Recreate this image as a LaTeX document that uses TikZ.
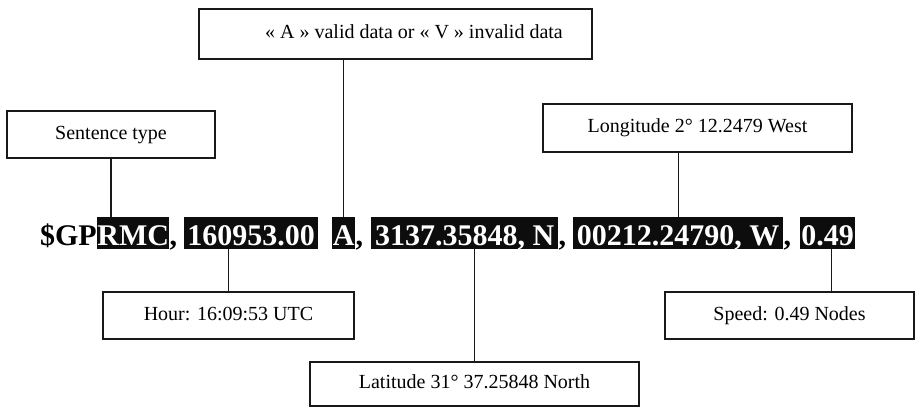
\documentclass[tikz,border=0pt]{standalone}
\usepackage{fontspec}
\setmainfont{Liberation Serif}
\begin{document}
\begin{tikzpicture}[x=1pt,y=-1pt,
  infobox/.style={draw=black!90, line width=1.2pt, fill=white,
    font=\fontsize{20}{24}\selectfont, inner sep=0pt,
    text height=14pt, text depth=5pt},
  conn/.style={draw=black!90, line width=1.2pt},
  plain/.style={font=\fontsize{30}{36}\selectfont\bfseries, inner sep=0pt,
    text height=28pt, text depth=4pt},
  field/.style={plain, fill=black!95, text=white, anchor=base west}]
\useasboundingbox (0,0) rectangle (916,408);

% NMEA sentence: highlighted fields on a common baseline
\node[field] (rmc) at (97,245)  {\makebox[72pt][c]{RMC}};
\node[field] (t)   at (184,245) {\makebox[134pt][c]{160953.00}};
\node[field] (a)   at (332,245) {\makebox[23pt][c]{A}};
\node[field] (n)   at (371,245) {\makebox[187pt][c]{3137.35848, N}};
\node[field] (w)   at (573,245) {\makebox[210pt][c]{00212.24790, W}};
\node[field] (v)   at (800,245) {\makebox[55pt][c]{0.49}};

\node[plain, anchor=base east] (gp) at (rmc.base west) {\$GP};
\node[plain, anchor=base west] (c1) at (rmc.base east) {,};
\node[plain, anchor=base west] (c2) at (a.base east) {,};
\node[plain, anchor=base west] (c3) at (n.base east) {,};
\node[plain, anchor=base west] (c4) at (w.base east) {,};

% explanation boxes
\node[infobox, minimum width=208pt, minimum height=47pt] (ty) at (111,134.5) {Sentence type};
\node[infobox, minimum width=393pt, minimum height=50pt] (valid) at (395.5,34)
  {\hspace*{37pt}« A » valid data or « V » invalid data};
\node[infobox, minimum width=309pt, minimum height=48pt] (lon) at (697.5,128) {Longitude 2° 12.2479 West};
\node[infobox, minimum width=251pt, minimum height=47pt] (hour) at (228.5,315.5) {Hour: 16:09:53 UTC};
\node[infobox, minimum width=329pt, minimum height=44pt] (lat) at (474.5,384) {Latitude 31° 37.25848 North};
\node[infobox, minimum width=249pt, minimum height=47pt] (sp) at (789.5,315.5) {Speed: 0.49 Nodes};

% connectors
\draw[conn] (ty.south) -- (ty.south |- rmc.north);
\draw[conn] (a.north |- valid.south) -- (a.north);
\draw[conn] (w.north |- lon.south) -- (w.north);
\draw[conn] (hour.north) -- (hour.north |- t.south);
\draw[conn] (lat.north) -- (lat.north |- n.south);
\coordinate (vs) at ([xshift=3.5pt]v.south);
\draw[conn] (vs) -- (vs |- sp.north);
\end{tikzpicture}
\end{document}
